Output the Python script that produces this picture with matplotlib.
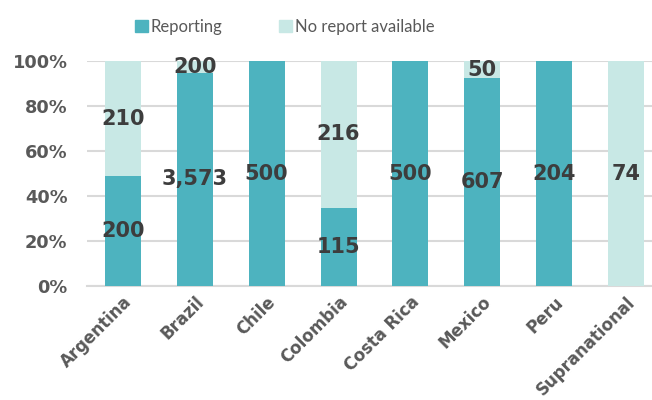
import matplotlib
matplotlib.use("Agg")
import matplotlib.pyplot as plt
from matplotlib.patches import Patch
import numpy as np

categories = ["Argentina", "Brazil", "Chile", "Colombia", "Costa Rica", "Mexico", "Peru", "Supranational"]
reporting = [200, 3573, 500, 115, 500, 607, 204, 0]
no_report = [210, 200, 0, 216, 0, 50, 0, 74]
series_names = ["Reporting", "No report available"]
ytick_vals = [0, 20, 40, 60, 80, 100]

c_rep = "#4DB3BF"
c_no = "#C8E8E5"

rep = np.array(reporting, float)
nor = np.array(no_report, float)
tot = rep + nor
rep_pct = rep / tot * 100
nor_pct = nor / tot * 100

fig = plt.figure(figsize=(6.52, 4.0), dpi=100)
ax = fig.add_axes([87/652, (400-286)/400, 575/652, 225/400])

x = np.arange(len(categories))
w = 0.5
ax.bar(x, rep_pct, w, color=c_rep, zorder=3)
ax.bar(x, nor_pct, w, bottom=rep_pct, color=c_no, zorder=3)

lab_kw = dict(ha="center", va="center", fontsize=15, fontweight="bold",
              color="#3d3d3d", family="DejaVu Sans", zorder=4)
for i in range(len(categories)):
    if rep[i] > 0:
        ax.text(x[i], rep_pct[i] / 2, f"{int(rep[i]):,}", **lab_kw)
    if nor[i] > 0:
        ax.text(x[i], rep_pct[i] + nor_pct[i] / 2, f"{int(nor[i]):,}", **lab_kw)

ax.set_xlim(-0.5, len(categories) - 0.5)
ax.set_ylim(0, 100)
ax.set_yticks(ytick_vals)
ax.set_yticklabels([f"{v}%" for v in ytick_vals])
ax.yaxis.grid(True, color="#d9d9d9", lw=1.5, zorder=0)
ax.set_axisbelow(True)
for s in ["top", "right", "left"]:
    ax.spines[s].set_visible(False)
ax.spines["bottom"].set_color("#d9d9d9")
ax.spines["bottom"].set_linewidth(1.5)
ax.tick_params(length=0)
ax.tick_params(axis="y", pad=14)
for t in ax.get_yticklabels():
    t.set_fontsize(12.8)
    t.set_fontweight("bold")
    t.set_color("#595959")
    t.set_family("DejaVu Sans")

ax.set_xticks(x)
ax.set_xticklabels(categories, rotation=45, ha="right", rotation_mode="anchor",
                   fontsize=12, fontweight="bold", color="#595959", family="DejaVu Sans")
ax.tick_params(axis="x", pad=5)

handles = [Patch(color=c_rep), Patch(color=c_no)]
leg = fig.legend(handles, series_names, loc="center", bbox_to_anchor=(285/652, 1 - 27/400),
                 ncol=2, frameon=False, handlelength=0.75, handleheight=0.75,
                 handletextpad=0.2, columnspacing=3.4,
                 prop={"family": "Lato", "size": 12})
for t in leg.get_texts():
    t.set_color("#595959")

fig.savefig("out.png", dpi=100)
